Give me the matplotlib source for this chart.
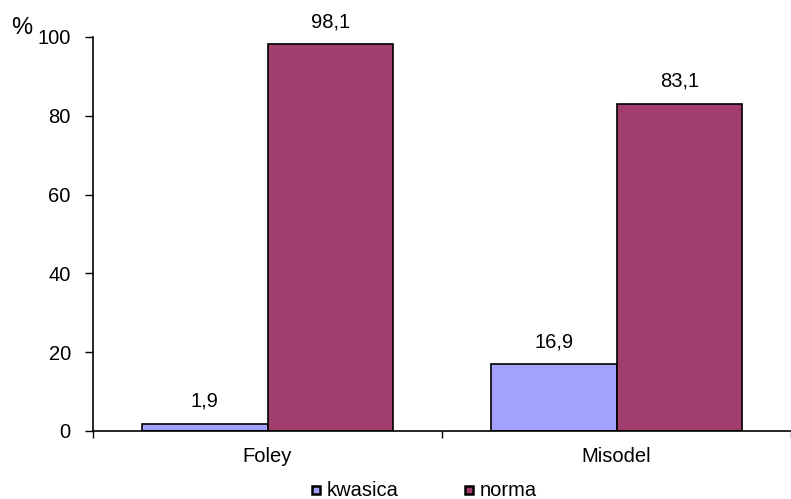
import matplotlib
matplotlib.use("Agg")
import matplotlib.pyplot as plt
from matplotlib.patches import Rectangle
import numpy as np

plt.rcParams['font.family'] = ['Liberation Sans', 'DejaVu Sans']

categories = ["Foley", "Misodel"]
series_names = ["kwasica", "norma"]
kwasica = [1.9, 16.9]
norma = [98.1, 83.1]
colors = ["#a2a2fe", "#a23e6e"]

FS = 14.5
W, H = 791, 499

fig = plt.figure(figsize=(W / 100, H / 100), dpi=100)
ax = fig.add_axes([0.1176, 0.1363, 0.8824, 0.7896])

x = np.arange(len(categories))
w = 0.36
bars1 = ax.bar(x - w / 2, kwasica, w, color=colors[0], edgecolor="black", linewidth=1.2)
bars2 = ax.bar(x + w / 2, norma, w, color=colors[1], edgecolor="black", linewidth=1.2)

for bars, vals in ((bars1, kwasica), (bars2, norma)):
    for b, v in zip(bars, vals):
        ax.text(b.get_x() + b.get_width() / 2, v + 3.3, f"{v:.1f}".replace(".", ","),
                ha="center", va="bottom", fontsize=FS)

ax.set_xlim(-0.5, 1.5)
ax.set_ylim(0, 100)
ax.set_yticks([0, 20, 40, 60, 80, 100])
ax.tick_params(axis="y", direction="out", length=6, width=1, labelsize=FS, pad=10)

# category labels centred, tick marks at category boundaries
ax.set_xticks([-0.5, 0.5, 1.5])
ax.set_xticklabels([])
ax.tick_params(axis="x", direction="out", length=5, width=1)
for xi, c in zip(x, categories):
    ax.text(xi, -4.0, c, ha="center", va="top", fontsize=FS)

for s in ("top", "right"):
    ax.spines[s].set_visible(False)
for s in ("left", "bottom"):
    ax.spines[s].set_linewidth(1.2)

fig.text(0.014, 0.944, "%", fontsize=17, ha="left", va="center")

# legend row below the plot: small outlined squares followed by the series names
legend_y = 1 - 490 / H
for name, color, px in zip(series_names, colors, (312, 465)):
    fig.add_artist(Rectangle((px / W, legend_y - 4 / H), 8 / W, 8 / H,
                             transform=fig.transFigure, facecolor=color,
                             edgecolor="black", linewidth=1.8))
    fig.text((px + 15) / W, legend_y, name, fontsize=FS, ha="left", va="center")

fig.savefig("out.png", dpi=100)
